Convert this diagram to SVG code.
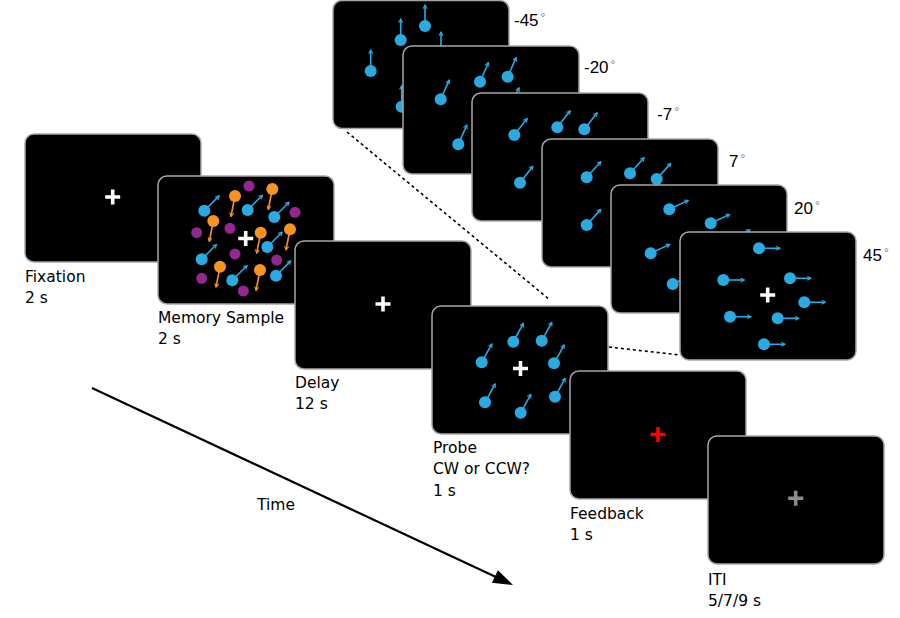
<svg xmlns="http://www.w3.org/2000/svg" width="900" height="618" viewBox="0 0 900 618">
<defs>
<style>
.panel{fill:#000;stroke:#a6a6a6;stroke-width:1.5}
.lbl{font-family:"DejaVu Sans",Verdana,sans-serif;font-size:15.5px;fill:#000}
.deg{font-family:"Liberation Sans",Arial,sans-serif;font-size:17px;fill:#000}
.dg{font-size:12px;fill:#777}
.b{fill:#29ABE2}
.o{fill:#F7931E}
.p{fill:#92278F}
.ba{stroke:#29ABE2;stroke-width:1.6;fill:none;marker-end:url(#mb)}
.oa{stroke:#F7931E;stroke-width:1.6;fill:none;marker-end:url(#mo)}
.cw{stroke:#fff;stroke-width:3.6;fill:none}
.dash{stroke:#000;stroke-width:1.6;stroke-dasharray:3 3;fill:none}
</style>
<marker id="mb" viewBox="0 0 6 6" refX="5" refY="3" markerWidth="5" markerHeight="5" markerUnits="userSpaceOnUse" orient="auto"><path d="M0.6,0.6 L5,3 L0.6,5.4" fill="none" stroke="#29ABE2" stroke-width="1.3"/></marker>
<marker id="mo" viewBox="0 0 6 6" refX="5" refY="3" markerWidth="5" markerHeight="5" markerUnits="userSpaceOnUse" orient="auto"><path d="M0.6,0.6 L5,3 L0.6,5.4" fill="none" stroke="#F7931E" stroke-width="1.3"/></marker>
</defs>
<rect width="900" height="618" fill="#fff"/>

<!-- stacked probe alternatives -->
<g id="alt-m45">
<rect class="panel" x="333" y="0.5" width="176" height="128" rx="9"/>
<line class="ba" x1="370.7" y1="71" x2="370.7" y2="50"/><circle class="b" cx="370.7" cy="71" r="6"/>
<line class="ba" x1="400.7" y1="40" x2="400.7" y2="19"/><circle class="b" cx="400.7" cy="40" r="6"/>
<line class="ba" x1="425" y1="26" x2="425" y2="5"/><circle class="b" cx="425" cy="26" r="6"/>
<line class="ba" x1="441" y1="53" x2="441" y2="32"/><circle class="b" cx="441" cy="53" r="6"/>
<line class="ba" x1="401.7" y1="106.7" x2="401.7" y2="85.7"/><circle class="b" cx="401.7" cy="106.7" r="6"/>
<text class="deg" x="514" y="25.5">-45<tspan class="dg" dx="2" dy="-4">°</tspan></text>
</g>
<g id="alt-m20">
<rect class="panel" x="403" y="46" width="176" height="128" rx="9"/>
<line class="ba" x1="440.7" y1="99.3" x2="449.2" y2="80.1"/><circle class="b" cx="440.7" cy="99.3" r="6"/>
<line class="ba" x1="480" y1="81.7" x2="488.5" y2="62.5"/><circle class="b" cx="480" cy="81.7" r="6"/>
<line class="ba" x1="507.7" y1="76.7" x2="516.2" y2="57.5"/><circle class="b" cx="507.7" cy="76.7" r="6"/>
<line class="ba" x1="458.3" y1="144.3" x2="466.8" y2="125.1"/><circle class="b" cx="458.3" cy="144.3" r="6"/>
<line class="ba" x1="510.5" y1="107" x2="519" y2="87.8"/><circle class="b" cx="510.5" cy="107" r="6"/>
<text class="deg" x="584" y="73">-20<tspan class="dg" dx="2" dy="-4">°</tspan></text>
</g>
<g id="alt-m7">
<rect class="panel" x="472" y="93" width="176" height="128" rx="9"/>
<line class="ba" x1="514.3" y1="135" x2="527.2" y2="118.5"/><circle class="b" cx="514.3" cy="135" r="6"/>
<line class="ba" x1="557.3" y1="127.3" x2="570.2" y2="110.8"/><circle class="b" cx="557.3" cy="127.3" r="6"/>
<line class="ba" x1="584.3" y1="129.3" x2="597.2" y2="112.8"/><circle class="b" cx="584.3" cy="129.3" r="6"/>
<line class="ba" x1="520" y1="182.7" x2="532.9" y2="166.2"/><circle class="b" cx="520" cy="182.7" r="6"/>
<text class="deg" x="657" y="120">-7<tspan class="dg" dx="2" dy="-4">°</tspan></text>
</g>
<g id="alt-p7">
<rect class="panel" x="542" y="139" width="176" height="128" rx="9"/>
<line class="ba" x1="586.7" y1="177.3" x2="600.8" y2="161.7"/><circle class="b" cx="586.7" cy="177.3" r="6"/>
<line class="ba" x1="630" y1="173.3" x2="644.1" y2="157.7"/><circle class="b" cx="630" cy="173.3" r="6"/>
<line class="ba" x1="656.7" y1="179" x2="670.8" y2="163.4"/><circle class="b" cx="656.7" cy="179" r="6"/>
<line class="ba" x1="586.7" y1="225" x2="600.8" y2="209.4"/><circle class="b" cx="586.7" cy="225" r="6"/>
<text class="deg" x="729" y="167">7<tspan class="dg" dx="2" dy="-4">°</tspan></text>
</g>
<g id="alt-p20">
<rect class="panel" x="611" y="185" width="176" height="128" rx="9"/>
<line class="ba" x1="669.3" y1="209.3" x2="688.3" y2="200.4"/><circle class="b" cx="669.3" cy="209.3" r="6"/>
<line class="ba" x1="710.7" y1="223.3" x2="729.7" y2="214.4"/><circle class="b" cx="710.7" cy="223.3" r="6"/>
<line class="ba" x1="650.7" y1="253.3" x2="669.7" y2="244.4"/><circle class="b" cx="650.7" cy="253.3" r="6"/>
<line class="ba" x1="672.7" y1="284" x2="691.7" y2="275.1"/><circle class="b" cx="672.7" cy="284" r="6"/>
<line class="ba" x1="731" y1="239" x2="750" y2="230.1"/><circle class="b" cx="731" cy="239" r="6"/>
<text class="deg" x="794" y="214">20<tspan class="dg" dx="2" dy="-4">°</tspan></text>
</g>
<g id="alt-p45">
<rect class="panel" x="680" y="232" width="176" height="128" rx="9"/>
<line class="ba" x1="759" y1="248.3" x2="780" y2="248.3"/><circle class="b" cx="759" cy="248.3" r="6"/>
<line class="ba" x1="723.3" y1="280" x2="744.3" y2="280"/><circle class="b" cx="723.3" cy="280" r="6"/>
<line class="ba" x1="790" y1="278.3" x2="811" y2="278.3"/><circle class="b" cx="790" cy="278.3" r="6"/>
<line class="ba" x1="804.3" y1="302.3" x2="825.3" y2="302.3"/><circle class="b" cx="804.3" cy="302.3" r="6"/>
<line class="ba" x1="730" y1="316.7" x2="751" y2="316.7"/><circle class="b" cx="730" cy="316.7" r="6"/>
<line class="ba" x1="777.7" y1="318.3" x2="798.7" y2="318.3"/><circle class="b" cx="777.7" cy="318.3" r="6"/>
<line class="ba" x1="764" y1="344.3" x2="785" y2="344.3"/><circle class="b" cx="764" cy="344.3" r="6"/>
<path class="cw" d="M760.2,295h15M767.7,287.5v15"/>
<text class="deg" x="863" y="261">45<tspan class="dg" dx="2" dy="-4">°</tspan></text>
</g>

<!-- main trial sequence -->
<g id="fixation">
<rect class="panel" x="25" y="134" width="176" height="128" rx="9"/>
<path class="cw" d="M105.2,197h15M112.7,189.5v15"/>
<text class="lbl" x="25" y="282">Fixation</text>
<text class="lbl" x="25" y="303">2 s</text>
</g>
<g id="memory-sample">
<rect class="panel" x="158" y="176" width="176" height="128" rx="9"/>
<circle class="p" cx="249" cy="186" r="5.5"/>
<circle class="p" cx="196.7" cy="232.7" r="5.5"/>
<circle class="p" cx="230" cy="228.3" r="5.5"/>
<circle class="p" cx="235" cy="254" r="5.5"/>
<circle class="p" cx="276.7" cy="260" r="5.5"/>
<circle class="p" cx="295" cy="212.3" r="5.5"/>
<circle class="p" cx="201.7" cy="278.3" r="5.5"/>
<circle class="p" cx="243.3" cy="291" r="5.5"/>
<line class="ba" x1="204.3" y1="210.7" x2="219.1" y2="195.9"/><circle class="b" cx="204.3" cy="210.7" r="6"/>
<line class="ba" x1="247.7" y1="210" x2="262.5" y2="195.2"/><circle class="b" cx="247.7" cy="210" r="6"/>
<line class="ba" x1="274.3" y1="217" x2="289.1" y2="202.2"/><circle class="b" cx="274.3" cy="217" r="6"/>
<line class="ba" x1="201.7" y1="259.3" x2="216.5" y2="244.5"/><circle class="b" cx="201.7" cy="259.3" r="6"/>
<line class="ba" x1="267.3" y1="247" x2="282.1" y2="232.2"/><circle class="b" cx="267.3" cy="247" r="6"/>
<line class="ba" x1="232.3" y1="280.3" x2="247.1" y2="265.5"/><circle class="b" cx="232.3" cy="280.3" r="6"/>
<line class="ba" x1="276" y1="275.7" x2="290.8" y2="260.9"/><circle class="b" cx="276" cy="275.7" r="6"/>
<line class="oa" x1="235" y1="196" x2="231" y2="216.5"/><circle class="o" cx="235" cy="196" r="6"/>
<line class="oa" x1="272.3" y1="189" x2="268.3" y2="209.5"/><circle class="o" cx="272.3" cy="189" r="6"/>
<line class="oa" x1="213.3" y1="221" x2="209.3" y2="241.5"/><circle class="o" cx="213.3" cy="221" r="6"/>
<line class="oa" x1="260.7" y1="232.7" x2="256.7" y2="253.2"/><circle class="o" cx="260.7" cy="232.7" r="6"/>
<line class="oa" x1="290" y1="229.3" x2="286" y2="249.8"/><circle class="o" cx="290" cy="229.3" r="6"/>
<line class="oa" x1="220" y1="266.7" x2="216" y2="287.2"/><circle class="o" cx="220" cy="266.7" r="6"/>
<line class="oa" x1="260" y1="270" x2="256" y2="290.5"/><circle class="o" cx="260" cy="270" r="6"/>
<path class="cw" d="M238.2,238.5h15M245.7,231v15"/>
<text class="lbl" x="158" y="323">Memory Sample</text>
<text class="lbl" x="158" y="344">2 s</text>
</g>
<g id="delay">
<rect class="panel" x="295" y="241" width="176" height="128" rx="9"/>
<path class="cw" d="M375.5,304h15M383,296.5v15"/>
<text class="lbl" x="295" y="388">Delay</text>
<text class="lbl" x="295" y="409">12 s</text>
</g>
<g id="probe">
<rect class="panel" x="432" y="306" width="176" height="128" rx="9"/>
<line class="ba" x1="513.3" y1="341.7" x2="523.5" y2="323.3"/><circle class="b" cx="513.3" cy="341.7" r="6"/>
<line class="ba" x1="541.7" y1="340.7" x2="551.9" y2="322.3"/><circle class="b" cx="541.7" cy="340.7" r="6"/>
<line class="ba" x1="481.7" y1="362.3" x2="491.9" y2="343.9"/><circle class="b" cx="481.7" cy="362.3" r="6"/>
<line class="ba" x1="554" y1="363.3" x2="564.2" y2="344.9"/><circle class="b" cx="554" cy="363.3" r="6"/>
<line class="ba" x1="485" y1="402.3" x2="495.2" y2="383.9"/><circle class="b" cx="485" cy="402.3" r="6"/>
<line class="ba" x1="555" y1="396.7" x2="565.2" y2="378.3"/><circle class="b" cx="555" cy="396.7" r="6"/>
<line class="ba" x1="520.7" y1="412.7" x2="530.9" y2="394.3"/><circle class="b" cx="520.7" cy="412.7" r="6"/>
<path class="cw" d="M513,368.5h15M520.5,361v15"/>
<text class="lbl" x="433" y="453">Probe</text>
<text class="lbl" x="433" y="474">CW or CCW?</text>
<text class="lbl" x="433" y="496">1 s</text>
</g>
<g id="feedback">
<rect class="panel" x="570" y="371" width="176" height="128" rx="9"/>
<path class="cw" style="stroke:#ff0000" d="M650.5,434.5h15M658,427v15"/>
<text class="lbl" x="570" y="519">Feedback</text>
<text class="lbl" x="570" y="540">1 s</text>
</g>
<g id="iti">
<rect class="panel" x="708" y="436" width="176" height="128" rx="9"/>
<path class="cw" style="stroke:#8c8c8c" d="M788.2,498.3h15M795.7,490.8v15"/>
<text class="lbl" x="708" y="585">ITI</text>
<text class="lbl" x="708" y="606">5/7/9 s</text>
</g>

<!-- connectors -->
<g id="connectors">
<line class="dash" x1="347" y1="132" x2="550" y2="300"/>
<line class="dash" x1="609" y1="347" x2="680" y2="355"/>
<line x1="92" y1="388" x2="497" y2="577.5" stroke="#000" stroke-width="2.2"/>
<polygon points="513,585 491.9,582.8 497.9,570.2" fill="#000"/>
<text class="lbl" x="257" y="510">Time</text>
</g>
</svg>
